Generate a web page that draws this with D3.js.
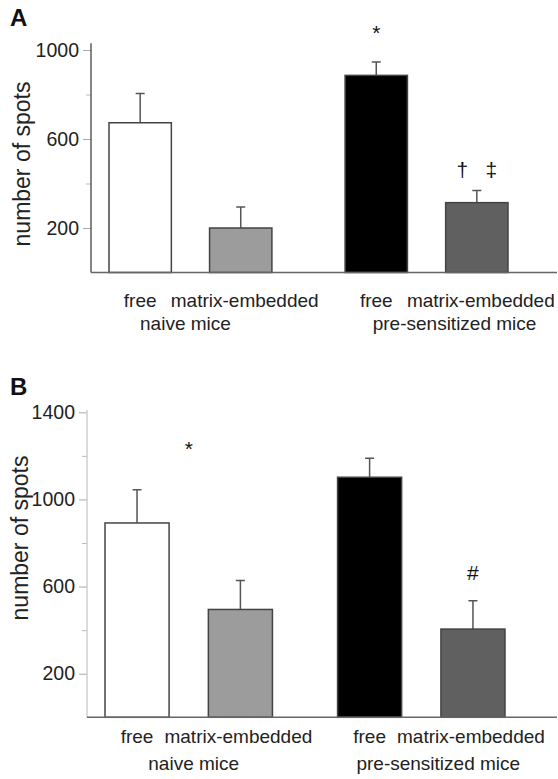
<!DOCTYPE html>
<html>
<head>
<meta charset="utf-8">
<script src="https://cdn.jsdelivr.net/npm/d3@7"></script>
<style>
  body { margin: 0; background: #fff; }
  text { font-family: "Liberation Sans", Arial, Helvetica, sans-serif; fill: #222; }
</style>
</head>
<body>
<svg id="chart"></svg>
<script>
// values
var groups = ["naive mice", "pre-sensitized mice"]
var categories = ["free", "matrix-embedded"]
var barFills = ["#ffffff", "#9c9c9c", "#000000", "#606060"]

var meansA = [673, 200, 886, 314]
var semA = [132, 94, 60, 54]
var majorTicksA = [200, 600, 1000]
var minorTicksA = [400, 800]

var meansB = [892, 495, 1102, 405]
var semB = [152, 133, 87, 130]
var majorTicksB = [200, 600, 1000, 1400]
var minorTicksB = [400, 800, 1200]

// significance marks: [group, category or null for whole group, symbol, value]
var marksA = [
  ["pre-sensitized mice", "free", "*", 1045],
  ["pre-sensitized mice", "matrix-embedded", "\u2020   \u2021", 429]
]
var marksB = [
  ["naive mice", null, "*", 1201],
  ["pre-sensitized mice", "matrix-embedded", "#", 629]
]

var width = 558, height = 779

var svg = d3.select("#chart")
  .attr("width", width)
  .attr("height", height)

var panels = [
  { letter: "A", letterY: 26, means: meansA, sem: semA, major: majorTicksA, minor: minorTicksA,
    marks: marksA, max: 1000, base: 272.5, top: 50, axisTop: 1030, axisX: 91, axisColor: "#444",
    xRange: [109, 508], pad: 0.31, titleY: 164, titleX: 22, labelY: 307, groupY: 330,
    catShift: [0, 4], groupShift: [-5, 28] },
  { letter: "B", letterY: 395, means: meansB, sem: semB, major: majorTicksB, minor: minorTicksB,
    marks: marksB, max: 1400, base: 717.3, top: 412.3, axisTop: 1410, axisX: 87, axisColor: "#c8c8c8",
    xRange: [105, 505], pad: 0.28, titleY: 538, titleX: 20, labelY: 743, groupY: 770,
    catShift: [0, -2], groupShift: [5, 17] }
]

panels.forEach(function(p) {
  var g = svg.append("g")

  var y = d3.scaleLinear()
    .domain([0, p.max])
    .range([p.base, p.top])

  var outer = d3.scaleBand()
    .domain(groups)
    .range(p.xRange)
    .paddingInner(p.pad)
  var inner = d3.scaleBand()
    .domain(categories)
    .range([0, outer.bandwidth()])
    .paddingInner(0.38)

  // panel letter
  g.append("text")
    .attr("x", 10)
    .attr("y", p.letterY)
    .attr("font-size", 24)
    .attr("font-weight", "bold")
    .style("fill", "#111")
    .text(p.letter)

  // y axis: labelled major ticks + short minor ticks
  var axisG = g.append("g")
    .attr("transform", "translate(" + p.axisX + ",0)")
  axisG.call(d3.axisLeft(y).tickValues(p.major).tickSize(8).tickPadding(4).tickFormat(d3.format("d")))
  axisG.select(".domain").remove()
  axisG.selectAll(".tick line").attr("stroke", "#aaa")
  axisG.selectAll(".tick text")
    .attr("font-size", 19.5)
    .attr("font-family", "Liberation Sans, Arial, sans-serif")
    .style("fill", "#222")
  var minorG = g.append("g")
    .attr("transform", "translate(" + p.axisX + ",0)")
  minorG.call(d3.axisLeft(y).tickValues(p.minor).tickSize(5).tickFormat(""))
  minorG.select(".domain").remove()
  minorG.selectAll(".tick line").attr("stroke", "#bbb")

  g.append("line")
    .attr("x1", p.axisX).attr("x2", p.axisX)
    .attr("y1", y(0)).attr("y2", y(p.axisTop))
    .attr("stroke", p.axisColor)
    .attr("stroke-width", 1.3)

  g.append("text")
    .attr("transform", "translate(" + p.titleX + "," + p.titleY + ") rotate(-90)")
    .attr("text-anchor", "middle")
    .attr("dominant-baseline", "central")
    .attr("font-size", 23)
    .text("number of spots")

  // bars
  var rows = []
  groups.forEach(function(grp, gi) {
    categories.forEach(function(cat, ci) {
      var i = gi * categories.length + ci
      rows.push({ group: grp, cat: cat, ci: ci, mean: p.means[i], sem: p.sem[i], fill: barFills[i] })
    })
  })
  function cx(d) { return outer(d.group) + inner(d.cat) + inner.bandwidth() / 2 }

  g.selectAll(".err")
    .data(rows)
    .enter()
    .append("path")
    .attr("class", "err")
    .attr("fill", "none")
    .attr("stroke", "#555")
    .attr("stroke-width", 1.5)
    .attr("d", function(d) {
      var x = cx(d), top = y(d.mean + d.sem)
      return "M" + x + "," + y(d.mean) + "V" + top + "M" + (x - 4.5) + "," + top + "H" + (x + 4.5)
    })

  g.selectAll(".bar")
    .data(rows)
    .enter()
    .append("rect")
    .attr("class", "bar")
    .attr("x", function(d) { return outer(d.group) + inner(d.cat) })
    .attr("y", function(d) { return y(d.mean) })
    .attr("width", inner.bandwidth())
    .attr("height", function(d) { return y(0) - y(d.mean) })
    .attr("fill", function(d) { return d.fill })
    .attr("stroke", "#444")
    .attr("stroke-width", 1.5)

  // baseline
  g.append("line")
    .attr("x1", p.axisX).attr("x2", width - 1)
    .attr("y1", y(0)).attr("y2", y(0))
    .attr("stroke", "#666")
    .attr("stroke-width", 1.5)

  // category and group labels
  g.selectAll(".cat")
    .data(rows)
    .enter()
    .append("text")
    .attr("class", "cat")
    .attr("text-anchor", "middle")
    .attr("x", function(d) { return cx(d) + p.catShift[d.ci] })
    .attr("y", p.labelY)
    .attr("font-size", 19)
    .text(function(d) { return d.cat })

  g.selectAll(".grp")
    .data(groups)
    .enter()
    .append("text")
    .attr("class", "grp")
    .attr("text-anchor", "middle")
    .attr("x", function(d, i) { return outer(d) + outer.bandwidth() / 2 + p.groupShift[i] })
    .attr("y", p.groupY)
    .attr("font-size", 19)
    .text(function(d) { return d })

  // significance marks
  g.selectAll(".mark")
    .data(p.marks)
    .enter()
    .append("text")
    .attr("class", "mark")
    .attr("text-anchor", "middle")
    .style("white-space", "pre")
    .attr("font-size", 21)
    .style("fill", "#111")
    .attr("x", function(d) {
      if (d[1] === null) return outer(d[0]) + outer.bandwidth() / 2
      return outer(d[0]) + inner(d[1]) + inner.bandwidth() / 2
    })
    .attr("y", function(d) { return y(d[3]) })
    .text(function(d) { return d[2] })
})
</script>
</body>
</html>
